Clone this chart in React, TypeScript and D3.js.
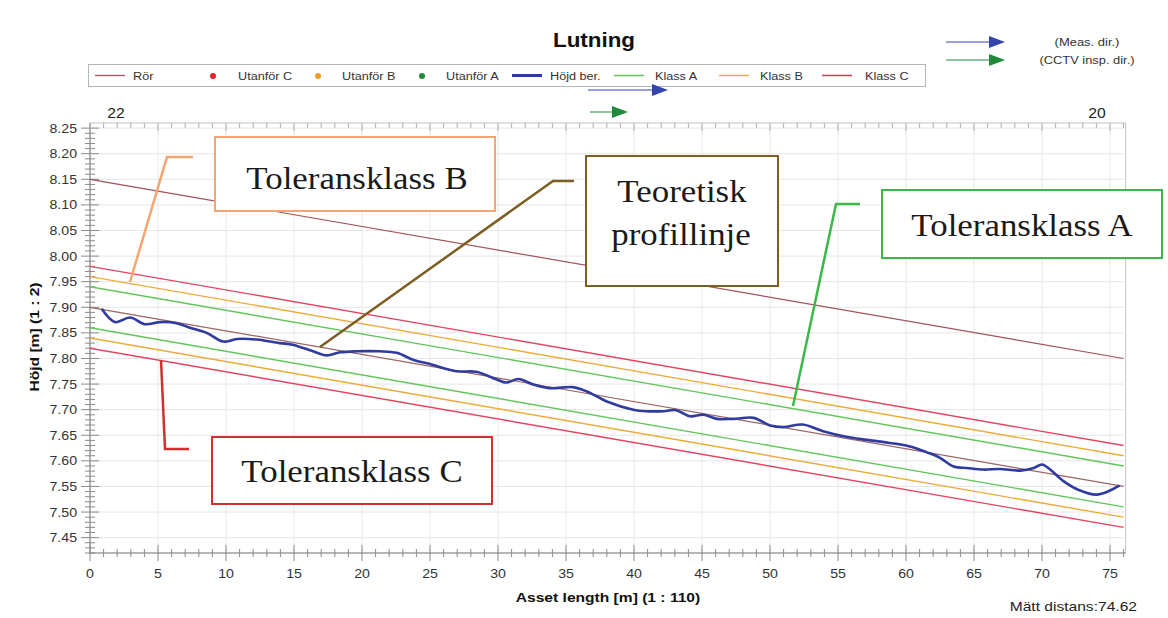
import React from "react";
import * as d3 from "d3";

// ---- data ----
const xDomain = [0, 76];
const yDomain = [7.42, 8.26];
const xTickValues = [0, 5, 10, 15, 20, 25, 30, 35, 40, 45, 50, 55, 60, 65, 70, 75];
const yTickValues = [7.45, 7.5, 7.55, 7.6, 7.65, 7.7, 7.75, 7.8, 7.85, 7.9, 7.95, 8.0, 8.05, 8.1, 8.15, 8.2, 8.25];

const lineX = [0, 76];
const rorY = [8.15, 7.8];
const profileY = [7.9, 7.55];
const klassNames = ["Klass A", "Klass B", "Klass C"];
const klassOffsets = [0.04, 0.06, 0.08];

const hojdX = [0.86, 1.84, 2.94, 4.04, 5.15, 6.37, 7.35, 8.58, 9.8, 10.8, 12.26, 13.97, 14.9, 16.4, 17.4, 18.4, 19.6, 21.3, 22.55, 23.8, 25.0, 26.96, 28.4, 29.9, 30.6, 31.5, 32.6, 33.8, 35.5, 36.5, 38.0, 39.95, 40.9, 42.2, 43.1, 44.1, 45.1, 46.1, 47.3, 48.8, 50.0, 51.0, 52.4, 53.9, 55.6, 57.1, 58.8, 60.3, 61.5, 62.5, 63.5, 64.5, 65.7, 66.9, 68.4, 69.4, 70.0, 70.6, 71.6, 72.8, 74.0, 75.0, 75.7];
const hojdY = [7.897, 7.871, 7.88, 7.867, 7.871, 7.869, 7.86, 7.85, 7.833, 7.838, 7.837, 7.83, 7.827, 7.814, 7.806, 7.812, 7.814, 7.814, 7.811, 7.797, 7.789, 7.775, 7.774, 7.759, 7.753, 7.76, 7.749, 7.742, 7.744, 7.736, 7.716, 7.7, 7.697, 7.697, 7.699, 7.687, 7.69, 7.682, 7.682, 7.684, 7.669, 7.666, 7.671, 7.658, 7.647, 7.641, 7.635, 7.628, 7.617, 7.606, 7.589, 7.586, 7.583, 7.584, 7.581, 7.586, 7.593, 7.583, 7.56, 7.542, 7.534, 7.542, 7.552];

const legendLabels = ["Rör", "Utanför C", "Utanför B", "Utanför A", "Höjd ber.", "Klass A", "Klass B", "Klass C"];

const C = {
  ror: "#a1525e",
  profile: "#9a6464",
  A: "#62c75a",
  B: "#eeaa3a",
  Cc: "#e2465e",
  blue: "#2f3b9e",
  grid: "#e6e6e6",
  axis: "#8a8a8a",
};
const klassColors = [C.A, C.B, C.Cc];

const sans = "'Liberation Sans', Arial, sans-serif";
const serif = "'Liberation Serif', 'Times New Roman', serif";

type TProps = {
  x: number;
  y: number;
  size: number;
  sx?: number;
  anchor?: "start" | "middle" | "end";
  bold?: boolean;
  family?: string;
  fill?: string;
  rotate?: number;
  children: React.ReactNode;
};

function T({ x, y, size, sx = 1, anchor = "start", bold, family = sans, fill = "#333", rotate = 0, children }: TProps) {
  return (
    <text
      transform={`translate(${x},${y}) rotate(${rotate}) scale(${sx},1)`}
      textAnchor={anchor}
      fontFamily={family}
      fontWeight={bold ? "bold" : "normal"}
      fontSize={size}
      fill={fill}
    >
      {children}
    </text>
  );
}

export default function App() {
  const x = d3.scaleLinear().domain(xDomain).range([90, 1123.6]);
  const y = d3.scaleLinear().domain(yDomain).range([553, 123]);
  const line = d3
    .line<[number, number]>()
    .x((d) => x(d[0]))
    .y((d) => y(d[1]));
  const hojdLine = d3
    .line<[number, number]>()
    .x((d) => x(d[0]))
    .y((d) => y(d[1]))
    .curve(d3.curveCatmullRom);

  const minorY = d3.range(742, 826, 1).map((v) => v / 100);
  const minorX = d3.range(0, 77, 1);

  const straight = (ys: number[]) => line(lineX.map((xv, i) => [xv, ys[i]] as [number, number])) as string;

  const x0 = x(xDomain[0]);
  const x1 = x(xDomain[1]);
  const yTop = y(yDomain[1]);
  const yBot = y(yDomain[0]);

  const legendItems = [
    { kind: "line", color: C.ror, w: 1.3, lx: 95, tx: 133 },
    { kind: "dot", color: "#e8222a", lx: 213, tx: 238 },
    { kind: "dot", color: "#f29a2e", lx: 318, tx: 342 },
    { kind: "dot", color: "#1f8a3a", lx: 422, tx: 446 },
    { kind: "line", color: C.blue, w: 3, lx: 512, tx: 550 },
    { kind: "line", color: C.A, w: 1.5, lx: 614, tx: 655 },
    { kind: "line", color: C.B, w: 1.5, lx: 719, tx: 760 },
    { kind: "line", color: "#e2304a", w: 1.5, lx: 822, tx: 865 },
  ];

  const arrow = (xs: number, xe: number, yy: number, color: string, key: string) => (
    <g key={key}>
      <line x1={xs} x2={xe - 15} y1={yy} y2={yy} stroke={color} strokeWidth={1} />
      <path d={`M${xe - 16},${yy - 6} L${xe},${yy} L${xe - 16},${yy + 6} Z`} fill={color} />
    </g>
  );

  const annSize = 32;
  const annSx = 1.09;

  return (
    <svg width={1168} height={618} style={{ position: "absolute", left: 0, top: 0, background: "#fff" }}>
      {/* title */}
      <T x={594} y={47} size={20} sx={1.12} anchor="middle" bold fill="#111">
        Lutning
      </T>

      {/* legend */}
      <rect x={88.5} y={64.5} width={837} height={22} fill="#fff" stroke="#b5b5b5" strokeWidth={1} />
      {legendItems.map((it, i) => (
        <g key={i}>
          {it.kind === "line" ? (
            <line x1={it.lx} x2={it.lx + 30} y1={75.5} y2={75.5} stroke={it.color} strokeWidth={it.w} />
          ) : (
            <circle cx={it.lx} cy={76} r={3} fill={it.color} />
          )}
          <T x={it.tx} y={79.5} size={11} sx={1.15}>
            {legendLabels[i]}
          </T>
        </g>
      ))}

      {/* direction arrows */}
      {arrow(588, 668, 90, "#3344aa", "a1")}
      {arrow(590, 628, 112, "#1e8a3a", "a2")}
      {arrow(946, 1005, 42, "#3344aa", "a3")}
      {arrow(946, 1005, 60, "#1e8a3a", "a4")}
      <T x={1087} y={46} size={11} sx={1.18} anchor="middle">
        (Meas. dir.)
      </T>
      <T x={1087} y={64} size={11} sx={1.17} anchor="middle">
        (CCTV insp. dir.)
      </T>
      <T x={116} y={118} size={14} sx={1.12} anchor="middle" fill="#222">
        22
      </T>
      <T x={1097} y={118} size={14} sx={1.12} anchor="middle" fill="#222">
        20
      </T>

      {/* grid */}
      {xTickValues.map((v) => (
        <line key={"gx" + v} x1={x(v)} x2={x(v)} y1={yTop} y2={yBot} stroke={C.grid} strokeWidth={1} />
      ))}
      {yTickValues.map((v) => (
        <line key={"gy" + v} x1={x0} x2={x1} y1={y(v)} y2={y(v)} stroke={C.grid} strokeWidth={1} />
      ))}

      {/* frame */}
      <rect x={x0} y={yTop} width={x1 - x0 + 2} height={yBot - yTop} fill="none" stroke="#c4c4c4" strokeWidth={1} />
      <line x1={x0} x2={x0} y1={yTop} y2={yBot} stroke={C.axis} strokeWidth={1} />
      <line x1={x0} x2={x1 + 2} y1={yBot} y2={yBot} stroke={C.axis} strokeWidth={1} />

      {/* y ticks */}
      {minorY.map((v) => {
        const major = Math.abs(Math.round(v * 100) % 5) === 0;
        return (
          <line
            key={"ty" + v}
            x1={x0 - (major ? 9 : 5)}
            x2={x0 + (major ? 9 : 5)}
            y1={y(v)}
            y2={y(v)}
            stroke={C.axis}
            strokeWidth={1}
          />
        );
      })}
      {yTickValues.map((v) => (
        <T key={"ly" + v} x={77} y={y(v) + 4.5} size={12} sx={1.18} anchor="end">
          {v.toFixed(2)}
        </T>
      ))}

      {/* x ticks */}
      {minorX.map((v) => {
        const major = v % 5 === 0;
        return (
          <g key={"tx" + v}>
            <line x1={x(v)} x2={x(v)} y1={yBot - (major ? 8 : 4)} y2={yBot + (major ? 8 : 4)} stroke={C.axis} strokeWidth={1} />
            <line x1={x(v)} x2={x(v)} y1={yTop} y2={yTop + (major ? 8 : 5)} stroke="#b0b0b0" strokeWidth={1} />
          </g>
        );
      })}
      {xTickValues.map((v) => (
        <T key={"lx" + v} x={x(v)} y={578} size={12} sx={1.18} anchor="middle">
          {v}
        </T>
      ))}

      {/* axis titles */}
      <T x={608} y={602} size={13} sx={1.2} anchor="middle" bold fill="#111">
        Asset length [m] (1 : 110)
      </T>
      <T x={39} y={337} size={13} sx={1.2} anchor="middle" bold fill="#111" rotate={-90}>
        Höjd [m] (1 : 2)
      </T>
      <T x={1137} y={611} size={13} sx={1.2} anchor="end" fill="#222">
        Mätt distans:74.62
      </T>

      {/* series lines */}
      <path d={straight(rorY)} fill="none" stroke={C.ror} strokeWidth={1.2} />
      {klassOffsets.map((off, i) => (
        <g key={klassNames[i]}>
          <path d={straight(profileY.map((v) => v + off))} fill="none" stroke={klassColors[i]} strokeWidth={1.4} />
          <path d={straight(profileY.map((v) => v - off))} fill="none" stroke={klassColors[i]} strokeWidth={1.4} />
        </g>
      ))}
      <path d={straight(profileY)} fill="none" stroke={C.profile} strokeWidth={1.2} />
      <path
        d={hojdLine(hojdX.map((xv, i) => [xv, hojdY[i]] as [number, number])) as string}
        fill="none"
        stroke={C.blue}
        strokeWidth={2.6}
        strokeLinejoin="round"
      />

      {/* annotations */}
      {/* Toleransklass B */}
      <polyline points="193,157 167,157 130,282" fill="none" stroke="#f5a572" strokeWidth={2.5} />
      <rect x={215} y={137} width={280} height={74} fill="#fff" stroke="#f5a572" strokeWidth={2} />
      <T x={357} y={189} size={annSize} sx={annSx} anchor="middle" family={serif} fill="#1a1a1a">
        Toleransklass B
      </T>

      {/* Teoretisk profillinje */}
      <polyline points="574,181 553,181 320,347" fill="none" stroke="#7d5e22" strokeWidth={2.5} />
      <rect x={586} y={156} width={192} height={130} fill="#fff" stroke="#7d5e22" strokeWidth={2} />
      <T x={682} y={202} size={annSize} sx={annSx} anchor="middle" family={serif} fill="#1a1a1a">
        Teoretisk
      </T>
      <T x={681} y={245} size={annSize} sx={annSx} anchor="middle" family={serif} fill="#1a1a1a">
        profillinje
      </T>

      {/* Toleransklass A */}
      <polyline points="860,204 836,204 793,406" fill="none" stroke="#3cb84a" strokeWidth={2.5} />
      <rect x={882} y={190} width={280} height={68} fill="#fff" stroke="#3cb84a" strokeWidth={2} />
      <T x={1022} y={236} size={annSize} sx={annSx} anchor="middle" family={serif} fill="#1a1a1a">
        Toleransklass A
      </T>

      {/* Toleransklass C */}
      <polyline points="161,360 165,449 189,449" fill="none" stroke="#d22f2f" strokeWidth={2.5} />
      <rect x={212} y={437} width={280} height={67} fill="#fff" stroke="#d22f2f" strokeWidth={2} />
      <T x={352} y={482} size={annSize} sx={annSx} anchor="middle" family={serif} fill="#1a1a1a">
        Toleransklass C
      </T>
    </svg>
  );
}
